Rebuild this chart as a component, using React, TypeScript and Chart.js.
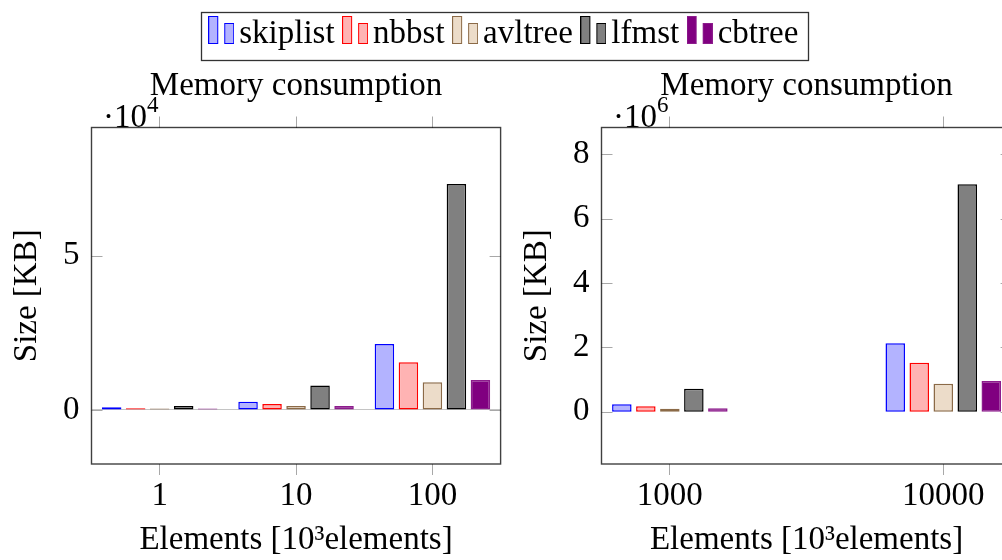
import React, { useEffect, useRef } from 'react';
import { Chart, registerables } from 'chart.js';

Chart.register(...registerables);

// ---------- data ----------
const seriesNames = ['skiplist', 'nbbst', 'avltree', 'lfmst', 'cbtree'];
const fillColors = ['#b3b3ff', '#ffb3b3', '#ecdcc9', '#808080', '#800080'];
const strokeColors = ['#0000ff', '#ff0000', '#8b6a47', '#000000', '#8c1c8c'];

const leftCategories = ['1', '10', '100'];
const leftSkiplist = [870, 2700, 21400];
const leftNbbst = [550, 1950, 15450];
const leftAvltree = [500, 1300, 8970];
const leftLfmst = [1300, 7900, 73200];
const leftCbtree = [500, 1300, 9720];

const rightCategories = ['1000', '10000'];
const rightSkiplist = [230000, 2126000];
const rightNbbst = [168000, 1525000];
const rightAvltree = [95000, 870000];
const rightLfmst = [715000, 7070000];
const rightCbtree = [105000, 955000];

const leftYTicks = [0, 50000];
const rightYTicks = [0, 2000000, 4000000, 6000000, 8000000];
const leftExp = 4;
const rightExp = 6;
const leftYRange = [-17500, 91540];
const rightYRange = [-1625500, 8833000];

const chartTitle = 'Memory consumption';
const xTitle = 'Elements [10³elements]';
const yTitle = 'Size [KB]';

const FONT = "'Liberation Serif', 'Times New Roman', serif";

function makeIcon(i: number): HTMLCanvasElement {
  const c = document.createElement('canvas');
  c.width = 26;
  c.height = 36;
  const g = c.getContext('2d')!;
  g.fillStyle = fillColors[i];
  g.strokeStyle = strokeColors[i];
  g.lineWidth = 1;
  g.fillRect(0.5, 0.5, 9, 27);
  g.strokeRect(0.5, 0.5, 9, 27);
  g.fillRect(16.5, 7.5, 9, 20);
  g.strokeRect(16.5, 7.5, 9, 20);
  return c;
}

type PanelOpts = {
  cats: string[];
  series: number[][];
  yTicks: number[];
  yRange: number[];
  exp: number;
  showLegend: boolean;
  zeroLine: boolean;
  xPad: number;
  catPct: number;
  rightWidth: number;
};

function buildChart(canvas: HTMLCanvasElement, o: PanelOpts) {
  const icons = seriesNames.map((_, i) => makeIcon(i));
  const xTickValues = o.cats.map((_, i) => i);
  const datasets = o.series.map((vals, i) => ({
    label: seriesNames[i],
    data: vals.map((v, j) => ({ x: j, y: v })),
    backgroundColor: fillColors[i],
    borderColor: strokeColors[i],
    borderWidth: 1.5,
    borderSkipped: false as const,
    categoryPercentage: o.catPct,
    barPercentage: 0.8125,
    xAxisID: 'x',
    yAxisID: 'y',
  }));

  const gridTicks = {
    display: true,
    offset: false,
    drawOnChartArea: false,
    drawTicks: true,
    tickLength: 11,
    color: '#a8a8a8',
    lineWidth: 1,
  };

  const framePlugin = {
    id: 'frame',
    afterDatasetsDraw(chart: any) {
      const { ctx, chartArea: a } = chart;
      const ys = chart.scales.y;
      ctx.save();
      ctx.strokeStyle = '#a8a8a8';
      ctx.lineWidth = 1;
      ctx.beginPath();
      o.yTicks.forEach((v) => {
        const py = Math.round(ys.getPixelForValue(v)) + 0.5;
        ctx.moveTo(a.left, py);
        ctx.lineTo(a.left + 11, py);
        ctx.moveTo(a.right - 11, py);
        ctx.lineTo(a.right, py);
      });
      ctx.stroke();
      ctx.strokeStyle = 'rgba(0,0,0,0.75)';
      ctx.lineWidth = 1.4;
      ctx.strokeRect(a.left, a.top, a.right - a.left, a.bottom - a.top);
      ctx.restore();
    },
    afterDraw(chart: any) {
      const { ctx, chartArea: a } = chart;
      ctx.save();
      ctx.fillStyle = '#000';
      ctx.textBaseline = 'alphabetic';
      ctx.textAlign = 'left';
      ctx.font = `33px ${FONT}`;
      const base = '·10';
      const x0 = a.left + 11.5;
      ctx.fillText(base, x0, a.top - 1);
      const w = ctx.measureText(base).width;
      ctx.font = `23px ${FONT}`;
      ctx.fillText(String(o.exp), x0 + w, a.top - 15.5);
      if (o.showLegend && chart.legend && chart.legend.legendHitBoxes.length) {
        const hb = chart.legend.legendHitBoxes;
        const mid = chart.legend.top + 19 + 16.5;
        const l = hb[0].left - 18.5;
        const last = hb[hb.length - 1];
        const r = last.left + last.width + 10;
        ctx.strokeStyle = 'rgba(0,0,0,0.8)';
        ctx.lineWidth = 1.3;
        ctx.strokeRect(Math.round(l) + 0.5, Math.round(mid - 22) + 0.5, Math.round(r - l), 48);
      }
      ctx.restore();
    },
  };

  return new Chart(canvas, {
    type: 'bar',
    data: { datasets },
    options: {
      responsive: false,
      animation: false,
      font: { family: FONT, size: 33 },
      color: '#000',
      layout: { padding: { top: o.showLegend ? -1.5 : 60.5, left: 16, right: 0, bottom: 0 } },
      plugins: {
        tooltip: { enabled: false },
        legend: {
          display: o.showLegend,
          position: 'top',
          weight: 3000,
          fullSize: true,
          labels: {
            usePointStyle: true,
            pointStyleWidth: 3,
            padding: 19,
            color: '#000',
            font: { family: FONT, size: 33 },
            generateLabels: (chart: any) =>
              chart.data.datasets.map((ds: any, i: number) => ({
                text: ds.label,
                pointStyle: icons[i],
                datasetIndex: i,
                hidden: false,
                lineWidth: 0,
                fillStyle: 'rgba(0,0,0,0)',
                strokeStyle: 'rgba(0,0,0,0)',
                fontColor: '#000',
              })),
          },
        },
        title: {
          display: true,
          text: chartTitle,
          fullSize: false,
          color: '#000',
          font: { family: FONT, size: 33, weight: 'normal' },
          padding: { top: 6.5, bottom: 9.9 },
        },
      },
      scales: {
        x: {
          type: 'linear',
          position: 'bottom',
          offset: false,
          min: -o.xPad,
          max: o.cats.length - 1 + o.xPad,
          afterBuildTicks: (s: any) => {
            s.ticks = xTickValues.map((v) => ({ value: v }));
          },
          afterFit: (s: any) => {
            s.height = 96;
          },
          ticks: {
            callback: (v: any) => o.cats[Math.round(Number(v))] ?? '',
            color: '#000',
            font: { family: FONT, size: 33 },
            padding: 2,
            maxRotation: 0,
            autoSkip: false,
          },
          grid: gridTicks,
          border: { display: false },
          title: {
            display: true,
            text: xTitle,
            color: '#000',
            font: { family: FONT, size: 33 },
            padding: { top: 0, bottom: 0 },
          },
        },
        xTop: {
          type: 'linear',
          position: 'top',
          offset: false,
          min: -o.xPad,
          max: o.cats.length - 1 + o.xPad,
          afterBuildTicks: (s: any) => {
            s.ticks = xTickValues.map((v) => ({ value: v }));
          },
          afterFit: (s: any) => {
            s.height = 11;
          },
          ticks: { display: false },
          grid: gridTicks,
          border: { display: false },
        },
        y: {
          type: 'linear',
          position: 'left',
          min: o.yRange[0],
          max: o.yRange[1],
          afterBuildTicks: (s: any) => {
            s.ticks = o.yTicks.map((v) => ({ value: v }));
          },
          afterFit: (s: any) => {
            s.width = 75.5;
          },
          ticks: {
            callback: (v: any) => String(Number(v) / Math.pow(10, o.exp)),
            color: '#000',
            font: { family: FONT, size: 33 },
            padding: 12,
          },
          grid: {
            display: o.zeroLine,
            drawOnChartArea: true,
            drawTicks: false,
            color: (c: any) => (c.tick && c.tick.value === 0 ? '#c4c4c4' : 'rgba(0,0,0,0)'),
            lineWidth: 1,
          },
          border: { display: false },
          title: {
            display: true,
            text: yTitle,
            color: '#000',
            font: { family: FONT, size: 33 },
            padding: { top: -8.4, bottom: 0 },
          },
        },
        yR: {
          type: 'linear',
          position: 'right',
          display: true,
          afterFit: (s: any) => {
            s.width = o.rightWidth;
          },
          ticks: { display: false },
          grid: { display: false },
          border: { display: false },
        },
      },
    } as any,
    plugins: [framePlugin],
  });
}

export default function App() {
  const leftRef = useRef<HTMLCanvasElement>(null);
  const rightRef = useRef<HTMLCanvasElement>(null);

  useEffect(() => {
    const left = buildChart(leftRef.current!, {
      cats: leftCategories,
      series: [leftSkiplist, leftNbbst, leftAvltree, leftLfmst, leftCbtree],
      yTicks: leftYTicks,
      yRange: leftYRange,
      exp: leftExp,
      showLegend: true,
      zeroLine: true,
      xPad: 0.5,
      catPct: 0.88,
      rightWidth: 501.4,
    });
    const right = buildChart(rightRef.current!, {
      cats: rightCategories,
      series: [rightSkiplist, rightNbbst, rightAvltree, rightLfmst, rightCbtree],
      yTicks: rightYTicks,
      yRange: rightYRange,
      exp: rightExp,
      showLegend: false,
      zeroLine: false,
      xPad: 0.25,
      catPct: 0.439,
      rightWidth: 500.4,
    });
    return () => {
      left.destroy();
      right.destroy();
    };
  }, []);

  return (
    <div
      style={{
        position: 'fixed',
        left: 0,
        top: 0,
        width: 1002,
        height: 560,
        overflow: 'hidden',
        background: '#fff',
      }}
    >
      <canvas
        ref={leftRef}
        width={1002}
        height={560}
        style={{ position: 'absolute', left: 0, top: 0, width: 1002, height: 560 }}
      />
      <div style={{ position: 'absolute', left: 510, top: 0, width: 1002, height: 560 }}>
        <canvas
          ref={rightRef}
          width={1002}
          height={560}
          style={{ position: 'absolute', left: 0, top: 0, width: 1002, height: 560 }}
        />
      </div>
    </div>
  );
}
